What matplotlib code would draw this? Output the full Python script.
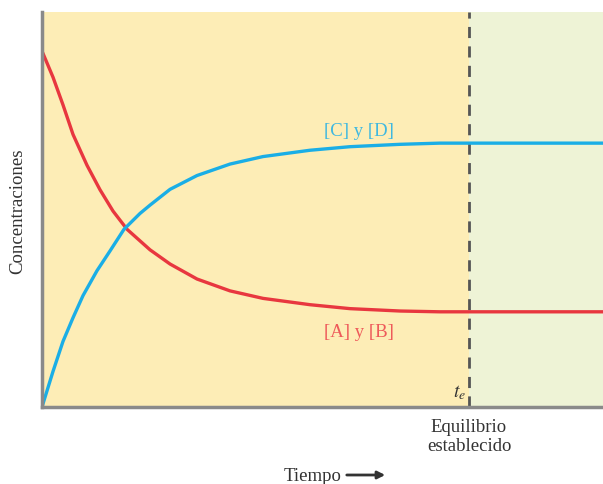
import matplotlib
matplotlib.use("Agg")
import matplotlib.pyplot as plt

# time axis (arbitrary units), t_e = time at which equilibrium is reached
t_e = 76.1
t_max = 100

# [A] y [B] (reactants)
time_ab = [0, 1.96, 3.74, 5.53, 8.02, 10.34, 12.66, 15.15, 19.25, 22.82, 27.63,
           33.51, 39.39, 47.77, 54.9, 63.81, 70.9, 76.1, 100]
conc_ab = [0.901, 0.835, 0.765, 0.690, 0.612, 0.550, 0.496, 0.450, 0.398, 0.362, 0.324,
           0.294, 0.275, 0.259, 0.249, 0.243, 0.241, 0.241, 0.241]

# [C] y [D] (products)
time_cd = [0, 1.96, 3.74, 5.53, 7.31, 9.8, 12.12, 14.62, 17.47, 19.25, 22.82, 27.63,
           33.51, 39.39, 47.77, 54.9, 63.81, 70.9, 100]
conc_cd = [0.0, 0.090, 0.166, 0.226, 0.282, 0.345, 0.395, 0.450, 0.490, 0.511, 0.551,
           0.586, 0.615, 0.634, 0.650, 0.659, 0.665, 0.668, 0.668]

red = "#e8373f"
blue = "#1aaee6"
serif = ["Liberation Serif", "DejaVu Serif"]
plt.rcParams["mathtext.fontset"] = "stix"

fig = plt.figure(figsize=(6.03, 4.85), dpi=100)
ax = fig.add_axes([42 / 603, 77 / 485, 1 - 42 / 603, 395 / 485])

# shaded regions before / after equilibrium
ax.axvspan(0, t_e, color="#fdedb6", lw=0)
ax.axvspan(t_e, t_max, color="#eef3d6", lw=0)
ax.axvline(t_e, color="#555555", lw=2, dashes=(4, 3))

ax.plot(time_ab, conc_ab, color=red, lw=2.4, solid_capstyle="round", solid_joinstyle="round")
ax.plot(time_cd, conc_cd, color=blue, lw=2.4, solid_capstyle="round", solid_joinstyle="round")

ax.set_xlim(0, t_max)
ax.set_ylim(0, 1)
ax.set_xticks([])
ax.set_yticks([])
for side in ["top", "right"]:
    ax.spines[side].set_visible(False)
for side in ["left", "bottom"]:
    ax.spines[side].set_color("#8a8a8a")
    ax.spines[side].set_linewidth(2.5)

# curve labels
ax.text(56.5, 0.70, "[C] y [D]", color="#3fb8e0", fontsize=13.5, ha="center", va="center", family=serif)
ax.text(56.5, 0.19, "[A] y [B]", color="#ee5a5a", fontsize=13.5, ha="center", va="center", family=serif)
ax.text(t_e - 0.6, 0.015, r"$t_e$", color="#333333", fontsize=14, ha="right", va="bottom")

# axis labels
fig.text(18 / 603, 1 - 211 / 485, "Concentraciones", rotation=90, fontsize=13.5,
         ha="center", va="center", color="#333333", family=serif)
fig.text(469 / 603, 1 - 437 / 485, "Equilibrio\nestablecido", fontsize=13.5,
         ha="center", va="center", color="#333333", family=serif, linespacing=1.2)
fig.text(342 / 603, 1 - 477 / 485, "Tiempo", fontsize=13.5, ha="right", va="center",
         color="#333333", family=serif)
fig.add_artist(matplotlib.patches.FancyArrowPatch(
    (344 / 603, 1 - 476 / 485), (388 / 603, 1 - 476 / 485),
    transform=fig.transFigure, arrowstyle="-|>", mutation_scale=11,
    color="#333333", lw=2))

fig.savefig("out.png", dpi=100)
